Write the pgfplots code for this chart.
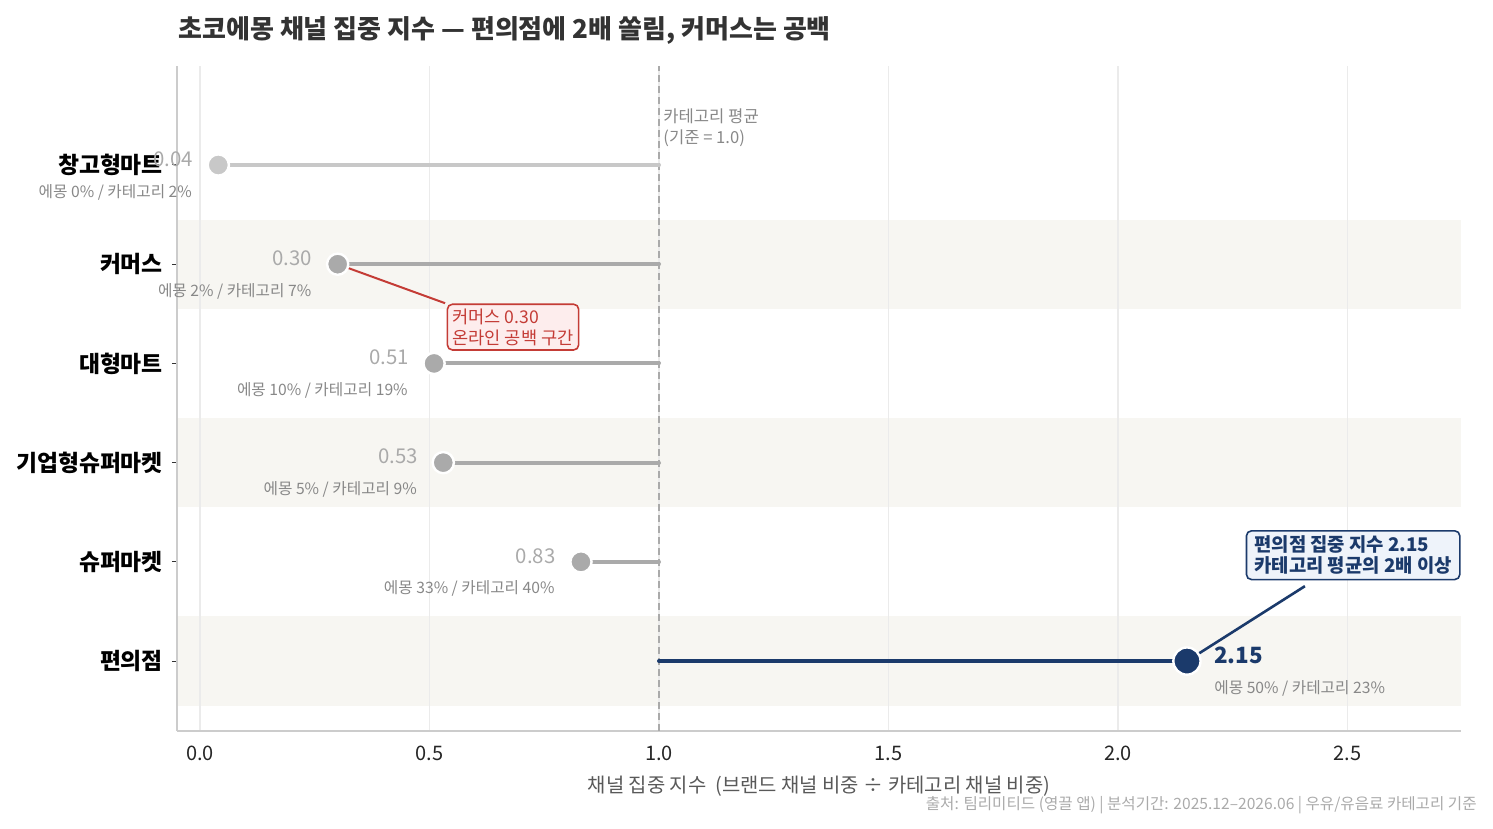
\documentclass[border=0pt]{standalone}
\usepackage{fontspec}
\setmainfont{Noto Sans CJK KR}
\usepackage{pgfplots}
\pgfplotsset{compat=1.18}
\definecolor{navy}{HTML}{1B3A6B}
\definecolor{midgray}{HTML}{AAAAAA}
\definecolor{lightgr}{HTML}{C8C8C8}
\definecolor{band}{HTML}{F7F6F2}
\definecolor{redc}{HTML}{C43C36}
\definecolor{pinkf}{HTML}{FDEDED}
\definecolor{bluef}{HTML}{EEF3FA}
\definecolor{subgray}{HTML}{888888}
\definecolor{gridc}{HTML}{EBEBEB}
\definecolor{spine}{HTML}{CCCCCC}
\definecolor{titlec}{HTML}{333333}
\newcommand\fs[2]{\fontsize{#1}{#2}\selectfont}
\begin{document}
\begin{tikzpicture}
\begin{axis}[
  at={(0pt,0pt)}, anchor=south west,
  scale only axis, width=642pt, height=332.5pt,
  xmin=-0.05, xmax=2.747, ymin=-0.705, ymax=5.998,
  set layers=standard,
  clip=false,
  axis x line*=bottom, axis y line*=left,
  axis line style={draw=spine, line width=0.8pt},
  xtick={0,0.5,1,1.5,2,2.5},
  xticklabels={0.0,0.5,1.0,1.5,2.0,2.5},
  xticklabel style={font=\fs{10pt}{12pt}, text=black!85, yshift=-1.5pt},
  major x tick style={draw=none},
  xmajorgrids, x grid style={draw=gridc, line width=0.6pt},
  ytick={0,1,2,3,4,5},
  yticklabels={편의점,슈퍼마켓,기업형슈퍼마켓,대형마트,커머스,창고형마트},
  yticklabel style={font=\bfseries\fs{11.4pt}{13pt}, text=black, xshift=-1pt},
  major y tick style={draw=black!80, line width=0.5pt},
  tick align=outside, major tick length=2.5pt,
  /pgf/number format/assume math mode=true,
]
% bands
\addplot[draw=none, fill=band, on layer=axis background] coordinates {(-0.05,3.55) (2.747,3.55) (2.747,4.45) (-0.05,4.45)} -- cycle;
\addplot[draw=none, fill=band, on layer=axis background] coordinates {(-0.05,1.55) (2.747,1.55) (2.747,2.45) (-0.05,2.45)} -- cycle;
\addplot[draw=none, fill=band, on layer=axis background] coordinates {(-0.05,-0.45) (2.747,-0.45) (2.747,0.45) (-0.05,0.45)} -- cycle;
% reference line
\addplot[draw=midgray, line width=1pt, dash pattern=on 3.5pt off 2pt] coordinates {(1,-0.705) (1,5.998)};
% stems
\addplot[draw=lightgr, line width=2pt, line cap=round] coordinates {(0.04,5) (1,5)};
\addplot[draw=midgray, line width=2pt, line cap=round] coordinates {(0.30,4) (1,4)};
\addplot[draw=midgray, line width=2pt, line cap=round] coordinates {(0.51,3) (1,3)};
\addplot[draw=midgray, line width=2pt, line cap=round] coordinates {(0.53,2) (1,2)};
\addplot[draw=midgray, line width=2pt, line cap=round] coordinates {(0.83,1) (1,1)};
\addplot[draw=navy, line width=2pt, line cap=round] coordinates {(1,0) (2.15,0)};
% connectors
\addplot[draw=redc, line width=1pt] coordinates {(0.30,4) (0.534,3.607)};
\addplot[draw=navy, line width=1.3pt] coordinates {(2.15,0) (2.407,0.755)};
% markers
\addplot[only marks, mark=*, mark size=5.3pt, mark options={fill=lightgr, draw=white, line width=1.2pt}] coordinates {(0.04,5)};
\addplot[only marks, mark=*, mark size=5.3pt, mark options={fill=midgray, draw=white, line width=1.2pt}] coordinates {(0.30,4) (0.51,3) (0.53,2) (0.83,1)};
\addplot[only marks, mark=*, mark size=6.8pt, mark options={fill=navy, draw=white, line width=1.2pt}] coordinates {(2.15,0)};
% value labels
\begin{scope}[every node/.style={inner sep=0pt}]
\node[anchor=east, text=midgray, font=\fs{10.2pt}{12pt}] at ([xshift=-12.5pt,yshift=3pt]axis cs:0.04,5) {0.04};
\node[anchor=east, text=midgray, font=\fs{10.2pt}{12pt}] at ([xshift=-12.5pt,yshift=3pt]axis cs:0.30,4) {0.30};
\node[anchor=east, text=midgray, font=\fs{10.2pt}{12pt}] at ([xshift=-12.5pt,yshift=3pt]axis cs:0.51,3) {0.51};
\node[anchor=east, text=midgray, font=\fs{10.2pt}{12pt}] at ([xshift=-12.5pt,yshift=3pt]axis cs:0.53,2) {0.53};
\node[anchor=east, text=midgray, font=\fs{10.2pt}{12pt}] at ([xshift=-12.5pt,yshift=3pt]axis cs:0.83,1) {0.83};
\node[anchor=west, text=navy, font=\bfseries\fs{11.2pt}{13pt}] at ([xshift=13.5pt,yshift=3pt]axis cs:2.15,0) {2.15};
\node[anchor=east, text=subgray, font=\fs{7.85pt}{9pt}] at ([xshift=-13pt,yshift=-13.5pt]axis cs:0.04,5) {에몽 0\% / 카테고리 2\%};
\node[anchor=east, text=subgray, font=\fs{7.85pt}{9pt}] at ([xshift=-13pt,yshift=-13.5pt]axis cs:0.30,4) {에몽 2\% / 카테고리 7\%};
\node[anchor=east, text=subgray, font=\fs{7.85pt}{9pt}] at ([xshift=-13pt,yshift=-13.5pt]axis cs:0.51,3) {에몽 10\% / 카테고리 19\%};
\node[anchor=east, text=subgray, font=\fs{7.85pt}{9pt}] at ([xshift=-13pt,yshift=-13.5pt]axis cs:0.53,2) {에몽 5\% / 카테고리 9\%};
\node[anchor=east, text=subgray, font=\fs{7.85pt}{9pt}] at ([xshift=-13pt,yshift=-13.5pt]axis cs:0.83,1) {에몽 33\% / 카테고리 40\%};
\node[anchor=west, text=subgray, font=\fs{7.85pt}{9pt}] at ([xshift=13.5pt,yshift=-13.5pt]axis cs:2.15,0) {에몽 50\% / 카테고리 23\%};
% reference label
\node[anchor=north west, align=left, text=subgray, font=\fs{8.3pt}{10.5pt}] at ([xshift=2pt]axis cs:1,5.57) {카테고리 평균\\(기준 = 1.0)};
\end{scope}
% annotation boxes
\node[draw=redc, fill=pinkf, text=redc, rounded corners=2.5pt, line width=0.8pt, align=left, inner xsep=2.5pt, inner ysep=2.2pt, font=\fs{8.8pt}{10.5pt}] at (axis cs:0.682,3.366) {커머스 0.30\\온라인 공백 구간};
\node[draw=navy, fill=bluef, text=navy, rounded corners=2.5pt, line width=0.8pt, align=left, inner xsep=4pt, inner ysep=2.5pt, font=\bfseries\fs{9.4pt}{10.5pt}] at (axis cs:2.512,1.067) {편의점 집중 지수 2.15\\카테고리 평균의 2배 이상};
\end{axis}
\node[anchor=west, text=titlec, font=\bfseries\fs{13pt}{15pt}, inner sep=0pt] at (0.5pt,350.5pt) {초코에몽 채널 집중 지수 — 편의점에 2배 쏠림, 커머스는 공백};
\node[text=black!65, font=\fs{9.95pt}{11pt}, inner sep=0pt] at (321pt,-27.5pt) {채널 집중 지수 ~(브랜드 채널 비중 ÷ 카테고리 채널 비중)};
\node[anchor=east, text=midgray, font=\fs{7.8pt}{9pt}, inner sep=0pt] at (650pt,-37pt) {출처: 팀리미티드 (영끌 앱) | 분석기간: 2025.12–2026.06 | 우유/유음료 카테고리 기준};
\pgfresetboundingbox
\path (-88.5pt,-49pt) rectangle (658pt,365.5pt);
\end{tikzpicture}
\end{document}
